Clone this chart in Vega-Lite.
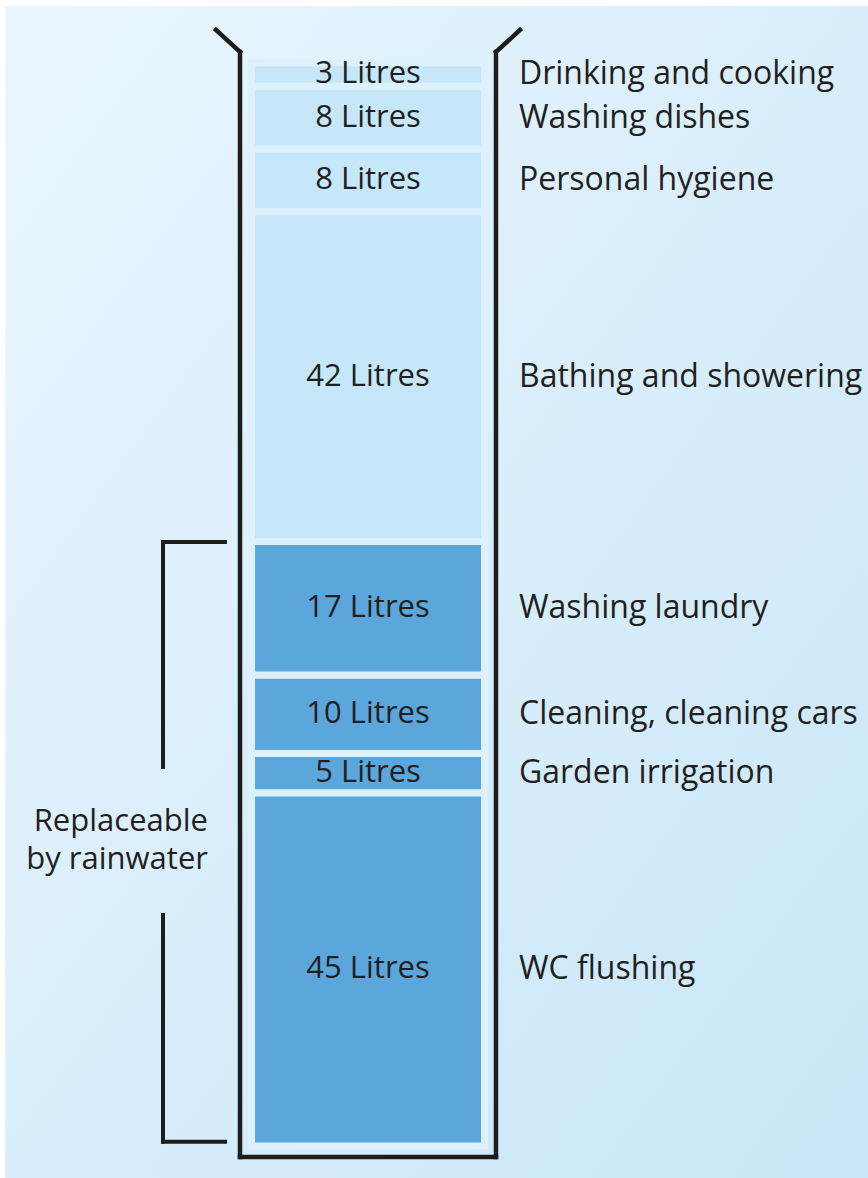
{
  "$schema": "https://vega.github.io/schema/vega-lite/v6.json",
  "width": 868,
  "height": 1178,
  "autosize": {"type": "fit", "contains": "padding"},
  "padding": 0,
  "background": "white",
  "config": {"view": {"stroke": null}, "font": "Open Sans"},
  "datasets": {
    "uses": [
      {"category": "WC flushing", "litres": 45, "label": "45 Litres", "order": 1, "group": "replaceable"},
      {"category": "Garden irrigation", "litres": 5, "label": "5 Litres", "order": 2, "group": "replaceable"},
      {"category": "Cleaning, cleaning cars", "litres": 10, "label": "10 Litres", "order": 3, "group": "replaceable"},
      {"category": "Washing laundry", "litres": 17, "label": "17 Litres", "order": 4, "group": "replaceable"},
      {"category": "Bathing and showering", "litres": 42, "label": "42 Litres", "order": 5, "group": "potable"},
      {"category": "Personal hygiene", "litres": 8, "label": "8 Litres", "order": 6, "group": "potable"},
      {"category": "Washing dishes", "litres": 8, "label": "8 Litres", "order": 7, "group": "potable"},
      {"category": "Drinking and cooking", "litres": 3, "label": "3 Litres", "order": 8, "group": "potable"}
    ],
    "one": [{}]
  },
  "layer": [
    {
      "data": {"name": "one"},
      "mark": {"type": "rect", "fill": {"gradient": "linear", "x1": 0, "y1": 0, "x2": 1, "y2": 1, "stops": [{"offset": 0, "color": "#eaf6fe"}, {"offset": 1, "color": "#c8e6f8"}]}},
      "encoding": {
        "x": {"datum": 0.6, "type": "quantitative", "scale": {"domain": [0, 100], "nice": false, "zero": false}, "axis": null},
        "x2": {"datum": 100},
        "y": {"datum": 145.23, "type": "quantitative", "scale": {"domain": [-4.076, 145.987], "nice": false, "zero": false}, "axis": null},
        "y2": {"datum": -4.076}
      }
    },
    {
      "data": {"name": "uses"},
      "transform": [
        {"stack": "litres", "groupby": [], "sort": [{"field": "order", "order": "ascending"}], "as": ["v0", "v1"]},
        {"calculate": "(datum.v0 + datum.v1) / 2", "as": "mid"}
      ],
      "layer": [
        {
          "mark": {"type": "rect", "stroke": "#ddf1fc", "strokeWidth": 7},
          "encoding": {
            "x": {"datum": 28.98, "type": "quantitative", "scale": {"domain": [0, 100], "nice": false, "zero": false}, "axis": null},
            "x2": {"datum": 55.82},
            "y": {"field": "v1", "type": "quantitative", "scale": {"domain": [-4.076, 145.987], "nice": false, "zero": false}, "axis": null},
            "y2": {"field": "v0"},
            "color": {"field": "group", "type": "nominal", "scale": {"domain": ["potable", "replaceable"], "range": ["#c6e7fa", "#5ba7db"]}, "legend": null}
          }
        },
        {
          "mark": {"type": "text", "fontSize": 31, "color": "#231f20", "align": "center", "baseline": "middle"},
          "encoding": {
            "x": {"datum": 42.4, "type": "quantitative", "scale": {"domain": [0, 100], "nice": false, "zero": false}, "axis": null},
            "y": {"field": "mid", "type": "quantitative", "scale": {"domain": [-4.076, 145.987], "nice": false, "zero": false}, "axis": null},
            "text": {"field": "label"}
          }
        },
        {
          "mark": {"type": "text", "fontSize": 32, "color": "#231f20", "align": "left", "baseline": "middle"},
          "encoding": {
            "x": {"datum": 59.79, "type": "quantitative", "scale": {"domain": [0, 100], "nice": false, "zero": false}, "axis": null},
            "y": {"field": "mid", "type": "quantitative", "scale": {"domain": [-4.076, 145.987], "nice": false, "zero": false}, "axis": null},
            "text": {"field": "category"}
          }
        }
      ]
    },
    {
      "data": {"name": "one"},
      "mark": {"type": "rule", "color": "#1d1d1b", "strokeWidth": 4.5, "strokeCap": "square"},
      "encoding": {"x": {"datum": 24.88, "type": "quantitative"}, "x2": {"datum": 27.65}, "y": {"datum": 142.17, "type": "quantitative"}, "y2": {"datum": 139.37}}
    },
    {
      "data": {"name": "one"},
      "mark": {"type": "rule", "color": "#1d1d1b", "strokeWidth": 4.5, "strokeCap": "square"},
      "encoding": {"x": {"datum": 27.65, "type": "quantitative"}, "y": {"datum": 139.37, "type": "quantitative"}, "y2": {"datum": -1.4}}
    },
    {
      "data": {"name": "one"},
      "mark": {"type": "rule", "color": "#1d1d1b", "strokeWidth": 4.5, "strokeCap": "square"},
      "encoding": {"x": {"datum": 27.65, "type": "quantitative"}, "x2": {"datum": 57.14}, "y": {"datum": -1.4, "type": "quantitative"}}
    },
    {
      "data": {"name": "one"},
      "mark": {"type": "rule", "color": "#1d1d1b", "strokeWidth": 4.5, "strokeCap": "square"},
      "encoding": {"x": {"datum": 57.14, "type": "quantitative"}, "y": {"datum": 139.37, "type": "quantitative"}, "y2": {"datum": -1.4}}
    },
    {
      "data": {"name": "one"},
      "mark": {"type": "rule", "color": "#1d1d1b", "strokeWidth": 4.5, "strokeCap": "square"},
      "encoding": {"x": {"datum": 57.14, "type": "quantitative"}, "x2": {"datum": 59.91}, "y": {"datum": 139.37, "type": "quantitative"}, "y2": {"datum": 142.17}}
    },
    {
      "data": {"name": "one"},
      "mark": {"type": "rule", "color": "#1d1d1b", "strokeWidth": 4, "strokeCap": "square"},
      "encoding": {"x": {"datum": 18.78, "type": "quantitative"}, "x2": {"datum": 25.92}, "y": {"datum": 76.94, "type": "quantitative"}}
    },
    {
      "data": {"name": "one"},
      "mark": {"type": "rule", "color": "#1d1d1b", "strokeWidth": 4, "strokeCap": "square"},
      "encoding": {"x": {"datum": 18.78, "type": "quantitative"}, "y": {"datum": 76.94, "type": "quantitative"}, "y2": {"datum": 48.28}}
    },
    {
      "data": {"name": "one"},
      "mark": {"type": "rule", "color": "#1d1d1b", "strokeWidth": 4, "strokeCap": "square"},
      "encoding": {"x": {"datum": 18.78, "type": "quantitative"}, "y": {"datum": 29.43, "type": "quantitative"}, "y2": {"datum": 0.55}}
    },
    {
      "data": {"name": "one"},
      "mark": {"type": "rule", "color": "#1d1d1b", "strokeWidth": 4, "strokeCap": "square"},
      "encoding": {"x": {"datum": 18.78, "type": "quantitative"}, "x2": {"datum": 25.92}, "y": {"datum": 0.55, "type": "quantitative"}}
    },
    {
      "data": {"name": "one"},
      "mark": {"type": "text", "text": ["Replaceable", "by rainwater"], "fontSize": 31, "lineHeight": 38, "color": "#231f20", "align": "right", "baseline": "middle"},
      "encoding": {"x": {"datum": 23.96, "type": "quantitative"}, "y": {"datum": 41.27, "type": "quantitative"}}
    }
  ]
}
